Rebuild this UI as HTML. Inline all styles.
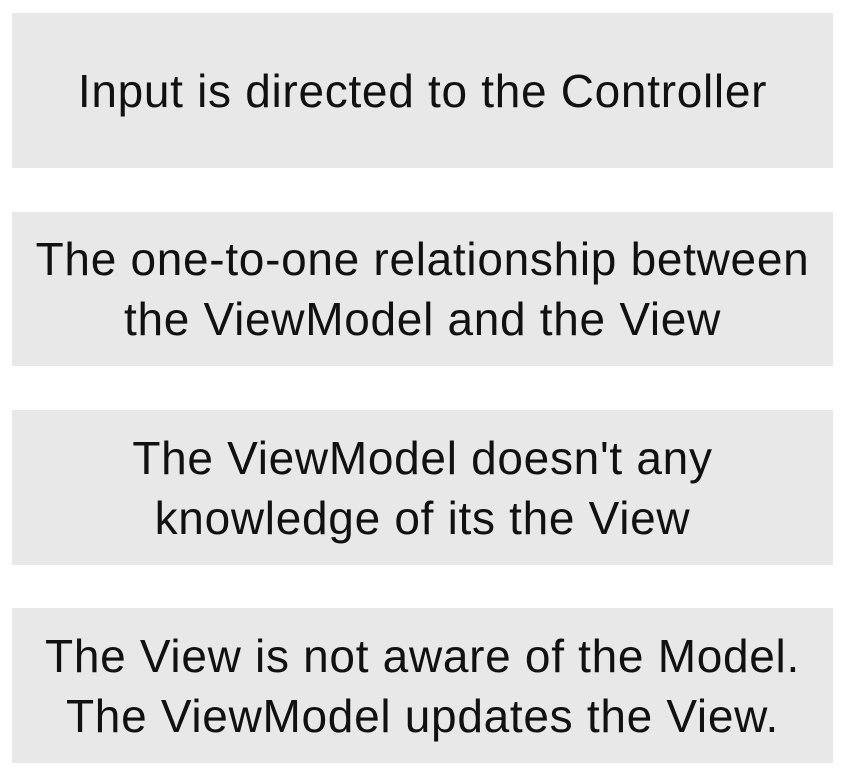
<!DOCTYPE html>
<html><head><style>
body{margin:0;width:846px;height:782px;background:#fff;position:relative;font-family:"Liberation Sans",sans-serif;}
.b{position:absolute;left:12px;width:821px;background:#e8e8e8;display:flex;align-items:center;justify-content:center;text-align:center;color:#111;font-size:46px;line-height:60px;letter-spacing:0.7px;white-space:nowrap;}
</style></head><body>
<div class="b" style="top:13px;height:155px">Input is directed to the Controller</div>
<div class="b" style="top:212px;height:154px">The one-to-one relationship between<br>the ViewModel and the View</div>
<div class="b" style="top:410px;height:155px">The ViewModel doesn't any<br>knowledge of its the View</div>
<div class="b" style="top:608px;height:155px">The View is not aware of the Model.<br>The ViewModel updates the View.</div>
</body></html>
